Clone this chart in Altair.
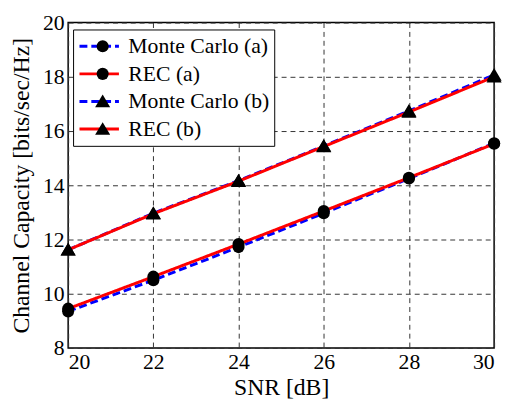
import altair as alt
import pandas as pd

snr = [20, 22, 24, 26, 28, 30]
mc_a = [9.35, 10.50, 11.72, 12.97, 14.25, 15.55]
rec_a = [9.45, 10.63, 11.83, 13.05, 14.28, 15.53]
mc_b = [11.62, 12.97, 14.17, 15.45, 16.74, 18.07]
rec_b = [11.62, 12.95, 14.15, 15.43, 16.70, 18.00]
names = ["Monte Carlo (a)", "REC (a)", "Monte Carlo (b)", "REC (b)"]
codes = ["0", "1", "2", "3"]
line_colors = ["#0000ff", "#ff0000", "#0000ff", "#ff0000"]
dashes = [[8, 4], [1, 0], [8, 4], [1, 0]]
TRI = "M0,-1.15L1.25,0.95L-1.25,0.95Z"
shapes = ["circle", "circle", TRI, TRI]

rows = []
for name, code, vals in zip(names, codes, [mc_a, rec_a, mc_b, rec_b]):
    for x, y in zip(snr, vals):
        rows.append({"snr": x, "cap": y, "series": name, "code": code})
df = pd.DataFrame(rows)

FONT = "Liberation Serif"
LX, LY = 5, 7

xenc = alt.X("snr:Q", scale=alt.Scale(domain=[20, 30], nice=False),
             axis=alt.Axis(values=snr, title="SNR [dB]"))
yenc = alt.Y("cap:Q", scale=alt.Scale(domain=[8, 20], nice=False),
             axis=alt.Axis(values=[8, 10, 12, 14, 16, 18, 20],
                           title="Channel Capacity [bits/sec/Hz]"))

common_legend = dict(orient="none", legendY=LY, title=None, padding=5,
                     labelFontSize=22, labelFont=FONT, rowPadding=4,
                     clipHeight=24, labelOffset=8)

lines = alt.Chart(df).mark_line(strokeWidth=3).encode(
    x=xenc, y=yenc,
    color=alt.Color("series:N", scale=alt.Scale(domain=names, range=line_colors),
                    legend=alt.Legend(legendX=LX, symbolType="stroke", symbolSize=1600,
                                      symbolStrokeWidth=3,
                                      fillColor="white", strokeColor="black",
                                      labelColor="black", **common_legend)),
    strokeDash=alt.StrokeDash("series:N", scale=alt.Scale(domain=names, range=dashes),
                              legend=alt.Legend(legendX=LX, **common_legend)),
    order=alt.Order("code:N"),
)

points = alt.Chart(df).mark_point(filled=True, opacity=1, color="black", size=150).encode(
    x=xenc, y=yenc,
    shape=alt.Shape("code:N", scale=alt.Scale(domain=codes, range=shapes),
                    legend=alt.Legend(legendX=LX + 14, symbolFillColor="black",
                                      symbolStrokeColor="black", symbolSize=150,
                                      symbolOpacity=1, labelColor="transparent",
                                      labelExpr="''", **common_legend)),
)

chart = alt.layer(lines, points).properties(
    width=432, height=330,
    padding={"left": 2, "top": 1, "right": 0, "bottom": 0},
).configure_view(
    stroke="black", strokeWidth=1.5,
).configure_axis(
    grid=True, gridColor="#333333", gridDash=[5, 4], gridWidth=1,
    ticks=False, domain=False,
    labelFont=FONT, labelFontSize=22, labelColor="black",
    titleFont=FONT, titleFontSize=24, titleColor="black", titleFontWeight="normal",
    labelPadding=4,
).configure_axisY(
    titlePadding=9,
).configure_axisX(
    titlePadding=3,
)

chart.save("out.html", embed_options={"renderer": "svg", "actions": False})
